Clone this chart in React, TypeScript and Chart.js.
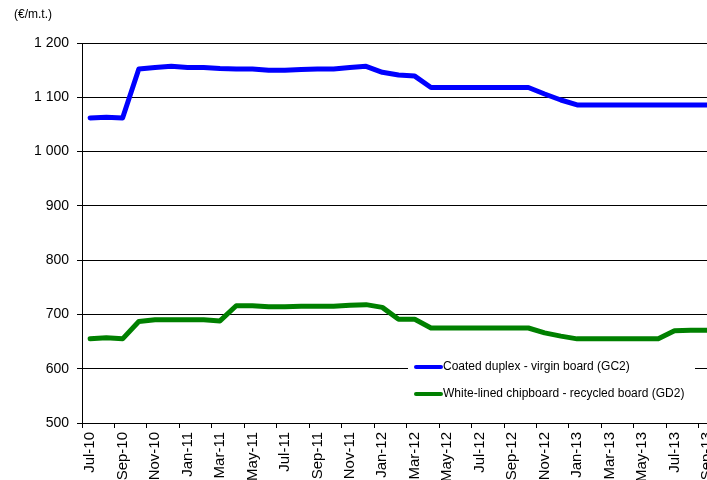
import React, { useEffect, useRef } from "react";
import { Chart, registerables } from "chart.js";

Chart.register(...registerables);

const months = [
  "Jul-10", "Aug-10", "Sep-10", "Oct-10", "Nov-10", "Dec-10",
  "Jan-11", "Feb-11", "Mar-11", "Apr-11", "May-11", "Jun-11",
  "Jul-11", "Aug-11", "Sep-11", "Oct-11", "Nov-11", "Dec-11",
  "Jan-12", "Feb-12", "Mar-12", "Apr-12", "May-12", "Jun-12",
  "Jul-12", "Aug-12", "Sep-12", "Oct-12", "Nov-12", "Dec-12",
  "Jan-13", "Feb-13", "Mar-13", "Apr-13", "May-13", "Jun-13",
  "Jul-13", "Aug-13", "Sep-13",
];

const coatedDuplexGC2 = [
  1062, 1063, 1062, 1152, 1155, 1157,
  1155, 1155, 1153, 1152, 1152, 1150,
  1150, 1151, 1152, 1152, 1155, 1157,
  1146, 1141, 1139, 1118, 1118, 1118,
  1118, 1118, 1118, 1118, 1106, 1095,
  1086, 1086, 1086, 1086, 1086, 1086,
  1086, 1086, 1086,
];

const whiteLinedGD2 = [
  655, 657, 655, 687, 690, 690,
  690, 690, 688, 716, 716, 714,
  714, 715, 715, 715, 717, 718,
  713, 691, 691, 675, 675, 675,
  675, 675, 675, 675, 666, 660,
  655, 655, 655, 655, 655, 655,
  670, 671, 671,
];

const seriesNames = [
  "Coated duplex - virgin board (GC2)",
  "White-lined chipboard - recycled board (GD2)",
];

const unitLabel = "(€/m.t.)";
const yMin = 500;
const yMax = 1200;
const yStep = 100;

const FONT = "'Liberation Sans', Arial, Helvetica, sans-serif";

const formatThousands = (v: number) =>
  String(v).replace(/\B(?=(\d{3})+(?!\d))/g, " ");

// Unit caption at top-left and a boxed legend inside the plot area
const overlayPlugin = {
  id: "overlay",
  afterDatasetsDraw(chart: any) {
    const ctx = chart.ctx as CanvasRenderingContext2D;
    ctx.save();
    ctx.fillStyle = "#000";
    ctx.font = `12px ${FONT}`;
    ctx.textAlign = "left";
    ctx.textBaseline = "middle";
    ctx.fillText(unitLabel, 14, 15);

    const boxX = 408;
    const boxY = 355;
    ctx.fillStyle = "#fff";
    ctx.fillRect(boxX, boxY, 287, 52);
    chart.data.datasets.forEach((ds: any, i: number) => {
      const y = 367 + i * 27;
      ctx.strokeStyle = ds.borderColor;
      ctx.lineWidth = 4;
      ctx.lineCap = "round";
      ctx.beginPath();
      ctx.moveTo(416, y);
      ctx.lineTo(441, y);
      ctx.stroke();
      ctx.fillStyle = "#000";
      ctx.font = `12px ${FONT}`;
      ctx.textBaseline = "middle";
      ctx.fillText(ds.label, 443, y);
    });
    ctx.restore();
  },
};

export default function App() {
  const canvasRef = useRef<HTMLCanvasElement | null>(null);

  useEffect(() => {
    const canvas = canvasRef.current;
    if (!canvas) return;
    const chart = new Chart(canvas, {
      type: "line",
      data: {
        labels: months,
        datasets: [
          {
            label: seriesNames[0],
            data: coatedDuplexGC2,
            borderColor: "#0000ff",
            backgroundColor: "#0000ff",
            borderWidth: 5,
            pointRadius: 0,
            tension: 0,
            borderCapStyle: "round",
            borderJoinStyle: "round",
          },
          {
            label: seriesNames[1],
            data: whiteLinedGD2,
            borderColor: "#008000",
            backgroundColor: "#008000",
            borderWidth: 5,
            pointRadius: 0,
            tension: 0,
            borderCapStyle: "round",
            borderJoinStyle: "round",
          },
        ],
      },
      options: {
        responsive: false,
        animation: false,
        devicePixelRatio: 1,
        layout: { padding: { top: 43, right: 3.5, left: 0, bottom: 0 } },
        plugins: {
          legend: { display: false },
          tooltip: { enabled: false },
        },
        scales: {
          x: {
            type: "category",
            offset: true,
            grid: {
              offset: true,
              drawOnChartArea: false,
              drawTicks: true,
              tickLength: 5,
              color: (c: any) =>
                typeof c.index === "number" && c.index % 2 === 0
                  ? "#000"
                  : "rgba(0,0,0,0)",
            },
            border: { display: true, color: "#000", width: 1 },
            ticks: {
              autoSkip: false,
              minRotation: 90,
              maxRotation: 90,
              padding: 4,
              color: "#000",
              font: { family: FONT, size: 15 },
              callback: (_v: any, i: number) => (i % 2 === 0 ? months[i] : ""),
            },
            afterFit: (scale: any) => {
              scale.height = 57;
            },
          },
          y: {
            min: yMin,
            max: yMax,
            grid: {
              color: "#000",
              lineWidth: 1,
              drawTicks: true,
              tickLength: 5,
            },
            border: { display: true, color: "#000", width: 1 },
            ticks: {
              stepSize: yStep,
              padding: 8,
              color: "#000",
              font: { family: FONT, size: 14 },
              callback: (v: any) => formatThousands(Number(v)),
            },
            afterFit: (scale: any) => {
              scale.width = 82;
            },
          },
        },
      },
      plugins: [overlayPlugin],
    });
    return () => chart.destroy();
  }, []);

  return (
    <div
      style={{
        position: "fixed",
        left: 0,
        top: 0,
        width: 707,
        height: 480,
        overflow: "hidden",
        background: "#fff",
      }}
    >
      <canvas
        ref={canvasRef}
        width={729}
        height={480}
        style={{ width: 729, height: 480, display: "block" }}
      />
    </div>
  );
}
